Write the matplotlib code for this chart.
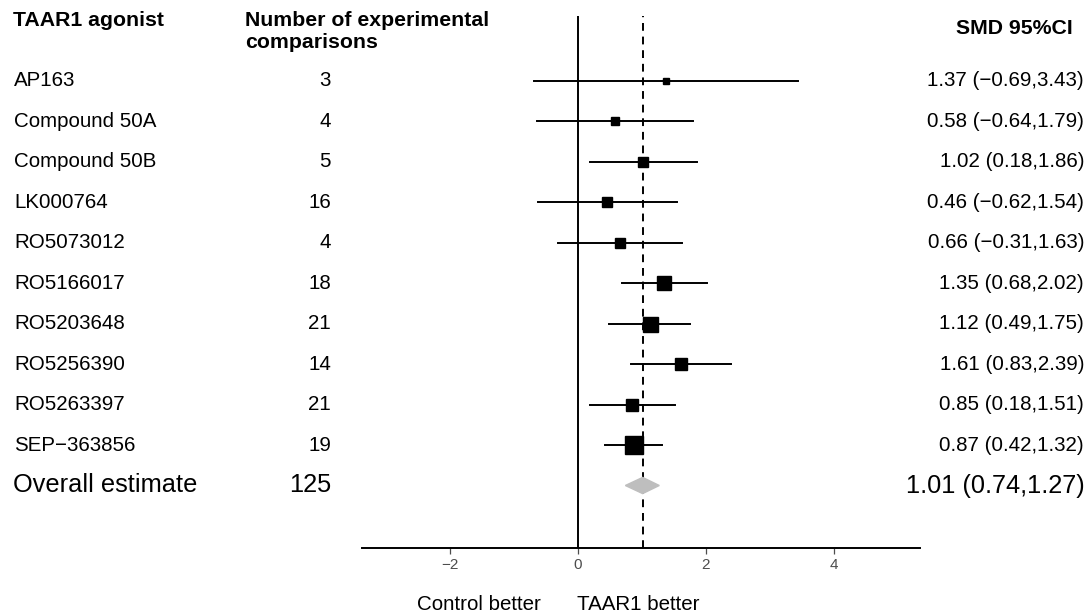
import numpy as np
import matplotlib
matplotlib.use('Agg')
import matplotlib.pyplot as plt
import matplotlib.transforms as mtransforms
from matplotlib.patches import Polygon

plt.rcParams['font.family'] = ['Liberation Sans', 'DejaVu Sans']

agonists = ["AP163", "Compound 50A", "Compound 50B", "LK000764", "RO5073012",
            "RO5166017", "RO5203648", "RO5256390", "RO5263397", "SEP\u2212363856"]
n_comparisons = [3, 4, 5, 16, 4, 18, 21, 14, 21, 19]
smd = [1.37, 0.58, 1.02, 0.46, 0.66, 1.35, 1.12, 1.61, 0.85, 0.87]
ci_low = [-0.69, -0.64, 0.18, -0.62, -0.31, 0.68, 0.49, 0.83, 0.18, 0.42]
ci_high = [3.43, 1.79, 1.86, 1.54, 1.63, 2.02, 1.75, 2.39, 1.51, 1.32]
weights = [28, 64, 114, 87, 100, 196, 225, 128, 161, 300]

overall_label = "Overall estimate"
overall_n = 125
overall_smd = 1.01
overall_low = 0.74
overall_high = 1.27

xticks = [-2, 0, 2, 4]

W, H = 1092, 612
fig = plt.figure(figsize=(W / 100, H / 100), dpi=100)
ax = fig.add_axes([362 / W, 64 / H, (920 - 362) / W, (548 - 16) / H])

rows = np.arange(len(agonists))
for r, m, lo, hi, w in zip(rows, smd, ci_low, ci_high, weights):
    ax.plot([lo, hi], [r, r], color='black', lw=1.4, zorder=2)
    ax.plot(m, r, marker='s', color='black', markersize=np.sqrt(w) * 0.72,
            linestyle='none', zorder=3)

r_over = len(agonists)
diamond = Polygon([[overall_low, r_over], [overall_smd, r_over - 0.2],
                   [overall_high, r_over], [overall_smd, r_over + 0.2]],
                  closed=True, facecolor='#BEBEBE', edgecolor='#BEBEBE', zorder=3)
ax.add_patch(diamond)

ax.axvline(0, color='black', lw=1.4, zorder=1)
ax.axvline(overall_smd, color='black', lw=1.4, ls=(0, (4, 3)), zorder=1)

x0 = 578
ppu = 64.0
ax.set_xlim((362 - x0) / ppu, (920 - x0) / ppu)
pitch = 40.45
ax.set_ylim((548 - 81) / pitch, (16 - 81) / pitch)
ax.set_xticks(xticks)
ax.set_xticklabels([str(t).replace('-', '\u2212') for t in xticks])
ax.tick_params(axis='x', colors='#4D4D4D', labelsize=11, length=4, width=0.9, pad=3)
ax.set_yticks([])
for s in ['top', 'left', 'right']:
    ax.spines[s].set_visible(False)
ax.spines['bottom'].set_linewidth(1.4)
ax.patch.set_alpha(0)

# text columns: x in figure fraction, y in data rows
tr = mtransforms.blended_transform_factory(fig.transFigure, ax.transData)
for r, name, n, m, lo, hi in zip(rows, agonists, n_comparisons, smd, ci_low, ci_high):
    ax.text(14 / W, r, name, transform=tr, ha='left', va='center', fontsize=14.8, clip_on=False)
    ax.text(331 / W, r, str(n), transform=tr, ha='right', va='center', fontsize=14.8, clip_on=False)
    lab = f"{m:.2f} ({lo:.2f},{hi:.2f})".replace('-', '\u2212')
    ax.text(1084 / W, r, lab, transform=tr, ha='right', va='center', fontsize=14.8, clip_on=False)

ax.text(13 / W, r_over, overall_label, transform=tr, ha='left', va='center', fontsize=18.3, clip_on=False)
ax.text(331 / W, r_over, str(overall_n), transform=tr, ha='right', va='center', fontsize=18.3, clip_on=False)
ax.text(1085 / W, r_over, f"{overall_smd:.2f} ({overall_low:.2f},{overall_high:.2f})",
        transform=tr, ha='right', va='center', fontsize=18.3, clip_on=False)

# headers
fig.text(13 / W, 1 - 20 / H, "TAAR1 agonist", ha='left', va='center', fontsize=15.3, fontweight='bold')
fig.text(245 / W, 1 - 31 / H, "Number of experimental\ncomparisons", ha='left', va='center',
         fontsize=15.3, fontweight='bold', linespacing=1.2)
fig.text(1073 / W, 1 - 29 / H, "SMD 95%CI", ha='right', va='center', fontsize=15.3, fontweight='bold')

# direction labels
fig.text(479 / W, 1 - 604 / H, "Control better", ha='center', va='center', fontsize=14.8)
fig.text(638 / W, 1 - 604 / H, "TAAR1 better", ha='center', va='center', fontsize=14.8)

fig.savefig('out.png', dpi=100)
